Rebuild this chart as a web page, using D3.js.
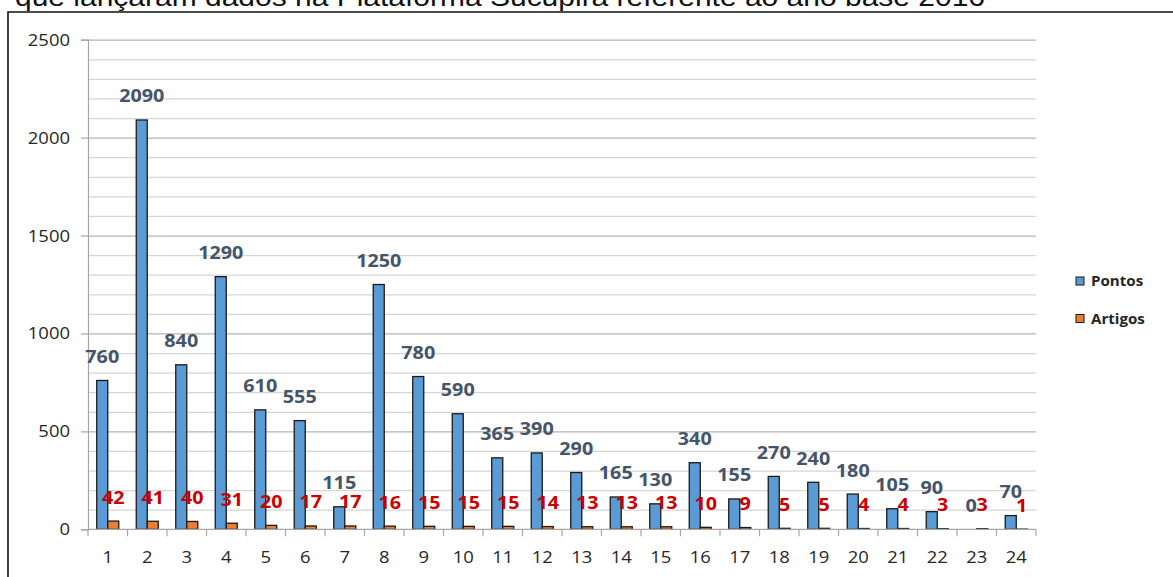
<!DOCTYPE html>
<html>
<head>
<meta charset="utf-8">
<script src="https://cdn.jsdelivr.net/npm/d3@7"></script>
<style>
  html, body { margin: 0; padding: 0; background: #fff; }
  svg { display: block; }
</style>
</head>
<body>
<svg id="chart" width="1173" height="577"></svg>
<script>
// Programs 1..24: points and number of articles
const categories = ["1","2","3","4","5","6","7","8","9","10","11","12","13","14","15","16","17","18","19","20","21","22","23","24"];
const pontos  = [760, 2090, 840, 1290, 610, 555, 115, 1250, 780, 590, 365, 390, 290, 165, 130, 340, 155, 270, 240, 180, 105, 90, 0, 70];
const artigos = [42, 41, 40, 31, 20, 17, 17, 16, 15, 15, 15, 14, 13, 13, 13, 10, 9, 5, 5, 4, 4, 3, 3, 1];
const seriesNames = ["Pontos", "Artigos"];
const yTicks = [0, 500, 1000, 1500, 2000, 2500];
const titleText = "que lançaram dados na Plataforma Sucupira referente ao ano base 2016";

const colors = { Pontos: "#5B9BD5", Artigos: "#ED7D31" };
const labelColors = { Pontos: "#44546A", Artigos: "#CC0000" };

const svg = d3.select("#chart");
const W = 1173, H = 577;

// caption line cut at the top of the frame
svg.append("text")
  .attr("x", 15).attr("y", 6)
  .attr("font-family", "Liberation Sans, Arial, sans-serif")
  .attr("font-size", 26)
  .attr("fill", "#111")
  .attr("textLength", 970).attr("lengthAdjust", "spacingAndGlyphs")
  .text(titleText);

// outer frame
svg.append("path")
  .attr("d", `M8,${H + 5} L8,12 L${W + 5},12`)
  .attr("fill", "none").attr("stroke", "#111").attr("stroke-width", 1.6);

const plot = { left: 88, right: 1036, top: 39.7, bottom: 529.3 };

const x = d3.scaleBand().domain(categories).range([plot.left, plot.right]).paddingInner(0).paddingOuter(0);
const xInner = d3.scaleBand().domain(seriesNames).range([0, x.bandwidth()]).paddingInner(0).paddingOuter(0.795);
const y = d3.scaleLinear().domain([0, 2500]).range([plot.bottom, plot.top]);

// horizontal scale factor applied to text glyphs
const sx = 1.12;

// gridlines: minor every 100, major every 500
const minor = d3.range(100, 2501, 100).filter(v => v % 500 !== 0);
svg.append("g").selectAll("line").data(minor).join("line")
  .attr("x1", plot.left).attr("x2", plot.right)
  .attr("y1", d => y(d) + 0.5).attr("y2", d => y(d) + 0.5)
  .attr("stroke", "#D6D6D6").attr("stroke-width", 1.2);
svg.append("g").selectAll("line").data(yTicks.filter(v => v > 0)).join("line")
  .attr("x1", plot.left).attr("x2", plot.right)
  .attr("y1", d => y(d) + 0.5).attr("y2", d => y(d) + 0.5)
  .attr("stroke", "#B3B3B3").attr("stroke-width", 1.2);

// y axis
const yAxis = svg.append("g").attr("transform", `translate(${plot.left},0)`)
  .call(d3.axisLeft(y).tickValues(yTicks).tickSize(7).tickPadding(0).tickFormat(d3.format("d")));
yAxis.select(".domain").attr("stroke", "#A6A6A6").attr("stroke-width", 1.2);
yAxis.selectAll(".tick line").attr("stroke", "#A6A6A6").attr("stroke-width", 1.2);
yAxis.selectAll(".tick text").remove();
svg.append("g").selectAll("text").data(yTicks).join("text")
  .attr("transform", d => `translate(70,${y(d) + 6}) scale(${sx},1)`)
  .attr("text-anchor", "end")
  .attr("font-family", "Open Sans, sans-serif").attr("font-size", 16.5)
  .attr("fill", "#262626")
  .text(d => d);

// bars
const rows = categories.map((c, i) => ({ c, i, vals: [
  { key: "Pontos", v: pontos[i] },
  { key: "Artigos", v: artigos[i] }
]}));

svg.append("g").selectAll("g").data(rows).join("g")
  .attr("transform", d => `translate(${x(d.c)},0)`)
  .selectAll("rect").data(d => d.vals).join("rect")
  .attr("x", d => xInner(d.key))
  .attr("width", xInner.bandwidth())
  .attr("y", d => y(d.v))
  .attr("height", d => y(0) - y(d.v))
  .attr("fill", d => colors[d.key])
  .attr("stroke", "#1a1a1a").attr("stroke-width", 1.3);

// x axis line and ticks at category boundaries
svg.append("line")
  .attr("x1", plot.left).attr("x2", plot.right)
  .attr("y1", plot.bottom).attr("y2", plot.bottom)
  .attr("stroke", "#A6A6A6").attr("stroke-width", 1.3);
const bounds = categories.map(c => x(c)).concat([plot.right]);
svg.append("g").selectAll("line").data(bounds).join("line")
  .attr("x1", d => d).attr("x2", d => d)
  .attr("y1", plot.bottom).attr("y2", plot.bottom + 7)
  .attr("stroke", "#A6A6A6").attr("stroke-width", 1.2);

// category labels
svg.append("g").selectAll("text").data(categories).join("text")
  .attr("transform", d => `translate(${x(d) + x.bandwidth() / 2},563) scale(${sx},1)`)
  .attr("text-anchor", "middle")
  .attr("font-family", "Open Sans, sans-serif").attr("font-size", 16.5)
  .attr("fill", "#262626")
  .text(d => d);

// value labels above each bar
const labelData = rows.flatMap(r => r.vals.map(v => ({ c: r.c, key: v.key, v: v.v })));
svg.append("g").selectAll("text").data(labelData).join("text")
  .attr("transform", d => `translate(${x(d.c) + xInner(d.key) + xInner.bandwidth() / 2},${y(d.v) - 17.5}) scale(1.07,1)`)
  .attr("text-anchor", "middle")
  .attr("font-family", "Open Sans, sans-serif").attr("font-weight", 700).attr("font-size", 18.5)
  .attr("fill", d => labelColors[d.key])
  .text(d => d.v);

// legend
const legend = svg.append("g").selectAll("g").data(seriesNames).join("g")
  .attr("transform", (d, i) => `translate(1076,${281 + i * 37.5})`);
legend.append("rect")
  .attr("x", 0).attr("y", -4).attr("width", 8).attr("height", 8)
  .attr("fill", d => colors[d]).attr("stroke", "#1a1a1a").attr("stroke-width", 1);
legend.append("text")
  .attr("transform", `translate(15,5) scale(${sx},1)`)
  .attr("font-family", "Open Sans, sans-serif").attr("font-weight", 700).attr("font-size", 13.5)
  .attr("fill", "#262626")
  .text(d => d);
</script>
</body>
</html>
